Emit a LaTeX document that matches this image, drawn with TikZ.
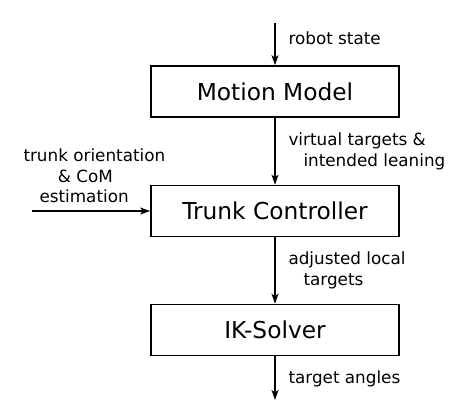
\documentclass[tikz,border=0pt]{standalone}
\usepackage{fontspec}
\setmainfont{DejaVu Sans}
\usetikzlibrary{arrows.meta}
\begin{document}
\begin{tikzpicture}[x=1pt,y=-1pt,
  blockbox/.style={draw,line width=1.6pt,minimum width=248pt,minimum height=51pt,inner sep=0pt,font=\fontsize{23.3}{26}\selectfont},
  lbl/.style={anchor=base west,inner sep=0pt,font=\fontsize{16.8}{19}\selectfont},
  lblc/.style={anchor=base,inner sep=0pt,font=\fontsize{16.8}{19}\selectfont},
  flow/.style={line width=1.6pt,-{Stealth[length=10pt,width=7pt,inset=2.5pt]}}]
\useasboundingbox (0,0) rectangle (462,415);
\node[blockbox] (mm) at (275,91.5) {Motion Model};
\node[blockbox] (tc) at (275,211) {Trunk Controller};
\node[blockbox] (ik) at (275,330) {IK-Solver};
\coordinate (in) at (275,23);
\coordinate (out) at (275,400);
\coordinate (left) at (31.7,211);
\draw[flow] (in) -- (mm.north);
\draw[flow] (mm.south) -- (tc.north);
\draw[flow] (tc.south) -- (ik.north);
\draw[flow] (ik.south) -- (out);
\draw[flow] (left) -- (tc.west);
\node[lbl] (l1) at (288.3,44) {robot state};
\node[lbl] (l2) at (288.3,145) {virtual targets \&};
\node[lbl] (l3) at (303.3,166) {intended leaning};
\node[lbl] (l4) at (23.3,161) {trunk orientation};
\node[lbl] (l5) at (57.7,182) {\& CoM};
\node[lbl] (l6) at (39.3,202.5) {estimation};
\node[lbl] (l7) at (288.3,264) {adjusted local};
\node[lbl] (l8) at (303.3,285) {targets};
\node[lbl] (l9) at (288.3,383) {target angles};
\end{tikzpicture}
\end{document}
